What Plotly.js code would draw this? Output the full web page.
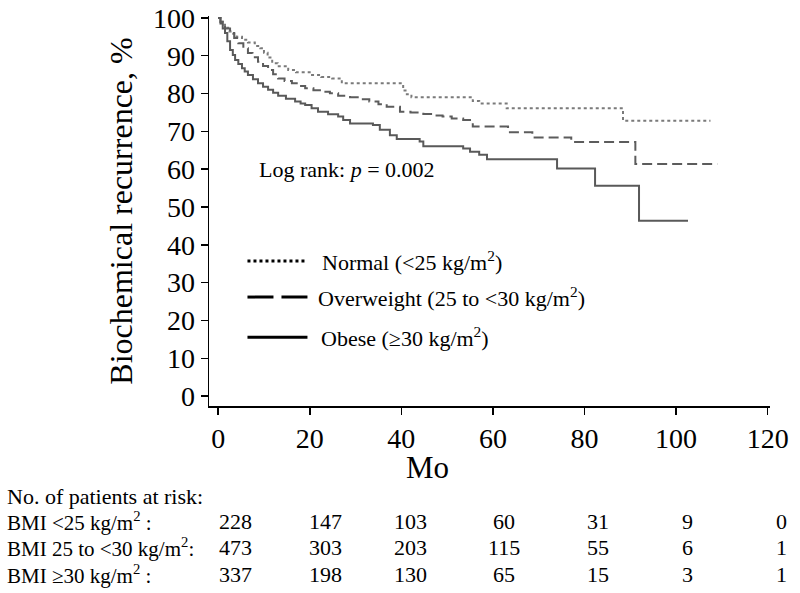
<!DOCTYPE html>
<html>
<head>
<meta charset="utf-8">
<script src="https://cdn.plot.ly/plotly-3.0.1.min.js"></script>
<style>html,body{margin:0;padding:0;background:#fff;}#chart{width:800px;height:593px;}</style>
</head>
<body>
<div id="chart"></div>
<script>
// Kaplan-Meier step data (months, % free of biochemical recurrence)
const normalT = [0, 0.5, 1, 1.5, 2.2, 3, 4, 5.2, 6.5, 8, 9.2, 10, 10.8, 11.8, 13, 15.3, 17, 20.5, 22.5, 24.9, 27, 40.4, 41.2, 42.2, 55.6, 57, 63, 88.4, 107.5];
const normalS = [100, 99, 98.2, 97.4, 96.4, 95.8, 95, 94.2, 93.5, 92.6, 92, 90.8, 89.5, 88, 87.2, 86.2, 85.6, 84.9, 84.4, 84, 82.7, 80.8, 79.8, 79, 78, 77.4, 76.1, 72.8, 72.8];

const overT = [0, 0.5, 1, 1.5, 2.6, 3.5, 4.4, 5.5, 6.5, 7.5, 8.7, 9.8, 10.9, 12, 13.1, 14.5, 16.1, 17.5, 19, 20.8, 22.7, 24.4, 26.2, 28.8, 31, 33, 35, 36.8, 39.7, 42, 44.8, 47, 49, 51, 53.5, 55.6, 63.3, 68.6, 77.1, 91.1, 109];
const overS = [100, 99, 98, 97.2, 96, 94.7, 93.3, 92, 90.7, 89.6, 88.4, 87.3, 86.2, 85.1, 84, 83.3, 82.7, 82, 81.4, 80.9, 80.5, 80.1, 79.4, 79, 78.5, 77.9, 77.2, 76.5, 75.2, 75, 74.6, 74.2, 73.9, 73.4, 73, 71.3, 69.8, 68.4, 67.2, 61.4, 61.4];

const obeseT = [0, 0.5, 1, 1.5, 2, 2.6, 3.2, 3.7, 4.4, 5.2, 5.8, 6.5, 7.6, 8.7, 9.8, 10.9, 12, 13.1, 14.8, 16.8, 18, 19, 20.4, 21.8, 24, 26.2, 27.3, 28.8, 33.8, 35.3, 37.5, 39, 44, 44.8, 53.5, 55, 57, 58.7, 74, 82.3, 91.9, 102.6];
const obeseS = [100, 98.5, 97.2, 96, 93.8, 91.5, 90.2, 88.9, 87.8, 86.7, 85.8, 84.9, 83.8, 82.7, 81.8, 81, 80.2, 79.4, 78.6, 77.9, 77.4, 77, 76.1, 75.2, 74.5, 73.9, 73, 72.1, 71.7, 70.4, 69, 68, 67.3, 66.1, 65.5, 64.6, 63.8, 62.6, 60.2, 55.6, 46.4, 46.4];

const xTicks = [0, 20, 40, 60, 80, 100, 120];
const yTicks = [0, 10, 20, 30, 40, 50, 60, 70, 80, 90, 100];

const seriesNames = ['Normal (&lt;25 kg/m<sup>2</sup>)', 'Overweight (25 to &lt;30 kg/m<sup>2</sup>)', 'Obese (≥30 kg/m<sup>2</sup>)'];

// Numbers at risk
const riskTitle = 'No. of patients at risk:';
const riskLabels = ['BMI &lt;25 kg/m<sup>2</sup> :', 'BMI 25 to &lt;30 kg/m<sup>2</sup>:', 'BMI ≥30 kg/m<sup>2</sup> :'];
const riskCols = [3.7, 23.5, 42, 62.5, 83, 102.5, 123];
const riskNormal = [228, 147, 103, 60, 31, 9, 0];
const riskOver = [473, 303, 203, 115, 55, 6, 1];
const riskObese = [337, 198, 130, 65, 15, 3, 1];

const logRankText = 'Log rank: <i>p</i> = 0.002';

const FONT = "'Liberation Serif', 'Times New Roman', serif";
const xRange = [-2, 120.5];
const yRange = [-2.6, 100.5];
// convert month value to paper fraction along the x axis
const toPaperX = t => (t - xRange[0]) / (xRange[1] - xRange[0]);

const traces = [
  {x: normalT, y: normalS, mode: 'lines', line: {shape: 'hv', color: '#7a7a7a', width: 2, dash: '3px,3px'}, showlegend: false, name: 'Normal'},
  {x: overT, y: overS, mode: 'lines', line: {shape: 'hv', color: '#5c5c5c', width: 2, dash: '10px,5px'}, showlegend: false, name: 'Overweight'},
  {x: obeseT, y: obeseS, mode: 'lines', line: {shape: 'hv', color: '#595959', width: 2}, showlegend: false, name: 'Obese'}
];

const annotations = [];
const shapes = [];

// legend (drawn inside plot)
const legY = [35.7, 26.2, 15.6];
const legDash = ['3px,3px', '26px,8px', 'solid'];
const legTextX = [22.3, 21.4, 22];
for (let i = 0; i < 3; i++) {
  shapes.push({type: 'line', xref: 'x', yref: 'y', x0: 6.4, x1: 19.5, y0: legY[i], y1: legY[i],
    line: {color: '#000', width: 3, dash: legDash[i]}});
  annotations.push({xref: 'x', yref: 'y', x: legTextX[i], y: legY[i], text: seriesNames[i], showarrow: false,
    xanchor: 'left', yanchor: 'middle', font: {family: FONT, size: 22, color: '#000'}});
}

annotations.push({xref: 'x', yref: 'y', x: 8.5, y: 59.8, text: logRankText, showarrow: false,
  xanchor: 'left', yanchor: 'middle', font: {family: FONT, size: 22, color: '#000'}});

// x-axis label
annotations.push({xref: 'paper', yref: 'paper', x: toPaperX(45.8), y: -0.158, text: 'Mo', showarrow: false,
  xanchor: 'center', yanchor: 'middle', font: {family: FONT, size: 31, color: '#000'}});

// risk table
const rowY = [-0.2974, -0.3641, -0.4308];
annotations.push({xref: 'paper', yref: 'paper', x: -0.3636, y: -0.2333, text: riskTitle, showarrow: false,
  xanchor: 'left', yanchor: 'middle', font: {family: FONT, size: 22, color: '#000'}});
const riskRows = [riskNormal, riskOver, riskObese];
for (let r = 0; r < 3; r++) {
  annotations.push({xref: 'paper', yref: 'paper', x: -0.3636, y: rowY[r], text: riskLabels[r], showarrow: false,
    xanchor: 'left', yanchor: 'middle', font: {family: FONT, size: 21, color: '#000'}});
  for (let c = 0; c < riskCols.length; c++) {
    annotations.push({xref: 'paper', yref: 'paper', x: toPaperX(riskCols[c]), y: rowY[r], text: String(riskRows[r][c]), showarrow: false,
      xanchor: 'center', yanchor: 'middle', font: {family: FONT, size: 22, color: '#000'}});
  }
}

const axisCommon = {
  showline: true, linecolor: '#000', linewidth: 1.5, mirror: false,
  ticks: 'outside', ticklen: 7, tickwidth: 1.5, tickcolor: '#000',
  showgrid: false, zeroline: false,
  tickfont: {family: FONT, size: 28, color: '#000'}
};

const layout = {
  width: 800, height: 593,
  margin: {l: 209, r: 30, t: 16, b: 187, pad: 0},
  paper_bgcolor: '#fff', plot_bgcolor: '#fff',
  font: {family: FONT, color: '#000'},
  xaxis: Object.assign({}, axisCommon, {range: xRange, tickmode: 'array', tickvals: xTicks, ticktext: xTicks.map(String)}),
  yaxis: Object.assign({}, axisCommon, {range: yRange, tickmode: 'array', tickvals: yTicks, ticktext: yTicks.map(String),
    title: {text: 'Biochemical recurrence, %', font: {family: FONT, size: 32, color: '#000'}, standoff: 10}}),
  showlegend: false,
  annotations: annotations,
  shapes: shapes
};

Plotly.newPlot('chart', traces, layout, {displayModeBar: false, staticPlot: true});
</script>
</body>
</html>
